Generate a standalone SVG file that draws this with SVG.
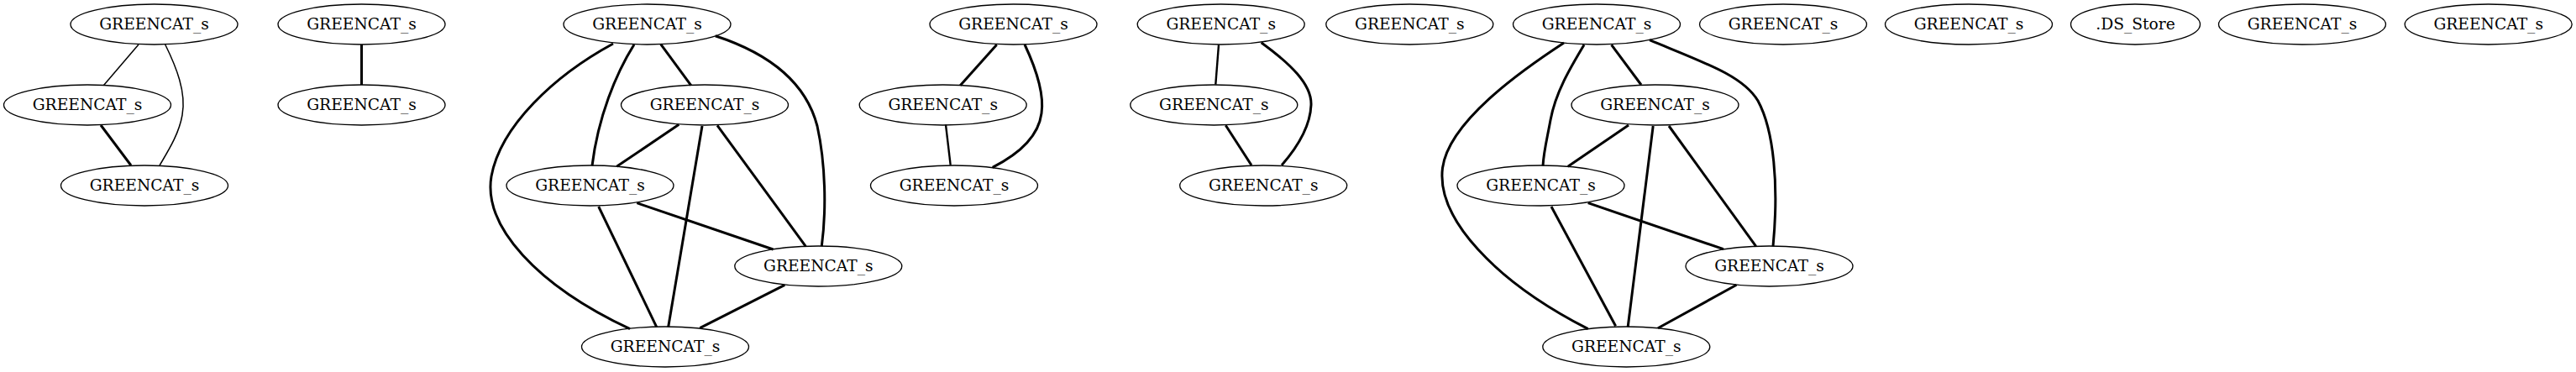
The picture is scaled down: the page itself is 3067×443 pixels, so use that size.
<svg xmlns="http://www.w3.org/2000/svg" width="3067" height="443" viewBox="0 0 3067 443">
<style>
  .node ellipse { fill: none; stroke: #000; stroke-width: 1.33; }
  .node text { font-family: "DejaVu Serif", "Liberation Serif", serif; font-size: 18.67px; text-anchor: middle; fill: #000; }
  #edges path { fill: none; stroke: #000; stroke-linecap: butt; }
  .w1 { stroke-width: 1.5; }
  .w2 { stroke-width: 2.4; }
  .w3 { stroke-width: 3; }
</style>
<rect width="3067" height="443" fill="#fff"/>
<g id="edges">
  <!-- component 1 -->
  <path class="w1" d="M165,53 L123.3,101.7"/>
  <path class="w1" d="M196.7,53 C210,80 222,110 217,137 C213,160 200,180 190,197"/>
  <path class="w3" d="M120,149 L156,197"/>
  <!-- component 2 -->
  <path class="w3" d="M430.5,53 L430.5,101"/>
  <!-- component 3 -->
  <path class="w3" d="M786.7,52.7 L822.7,101.7"/>
  <path class="w3" d="M755,53 C733,88 712,140 705,197.3"/>
  <path class="w3" d="M730,52 C660,90 596,150 585,210 C575,270 640,340 750,391.7"/>
  <path class="w3" d="M851.7,42.7 C920,65 960,100 973,150 C983,195 984,250 978.3,293.3"/>
  <path class="w3" d="M808.3,148.3 L734.3,198.3"/>
  <path class="w3" d="M836,150 L795.7,389.3"/>
  <path class="w3" d="M854,149.3 L959.3,293.3"/>
  <path class="w3" d="M758.3,241.7 L920.5,297"/>
  <path class="w3" d="M712.7,246 L781.7,389.3"/>
  <path class="w3" d="M934.3,339.3 L833.3,390.7"/>
  <!-- component 4 -->
  <path class="w3" d="M1186.7,53.3 L1143.3,101.7"/>
  <path class="w3" d="M1220,53 C1235,85 1243,115 1240,135 C1236,165 1210,185 1181.7,199.3"/>
  <path class="w2" d="M1126,148.3 L1131.7,196.7"/>
  <!-- component 5 -->
  <path class="w2" d="M1451,53.3 L1447.3,100.7"/>
  <path class="w3" d="M1501.7,50.7 C1535,75 1562,100 1561,125 C1560,150 1545,175 1526,196.7"/>
  <path class="w3" d="M1459.3,149.3 L1490,196.7"/>
  <!-- component 6 -->
  <path class="w3" d="M1918.6,53.3 L1954,101"/>
  <path class="w3" d="M1886,53.3 C1870,80 1852,110 1846,143 C1842,165 1838,180 1837,197.3"/>
  <path class="w3" d="M1862,51 C1810,85 1725,145 1717.5,200 C1710,260 1780,335 1890.7,391.7"/>
  <path class="w3" d="M1964,47.7 C2030,75 2075,90 2093,120 C2112,155 2118,220 2111,293.3"/>
  <path class="w3" d="M1939,149 L1866.8,198.3"/>
  <path class="w3" d="M1968.2,150 L1938.2,389.3"/>
  <path class="w3" d="M1987,150 L2090.7,293.3"/>
  <path class="w3" d="M1890.7,241.7 L2052,296.7"/>
  <path class="w3" d="M1847,246 L1923.6,388.3"/>
  <path class="w3" d="M2067.5,339.3 L1974,390.7"/>
</g>
<!-- component 1 -->
<g id="n1" class="node"><ellipse cx="183.5" cy="29" rx="99.5" ry="24"/><text x="183.5" y="35">GREENCAT_s</text></g>
<g id="n2" class="node"><ellipse cx="104" cy="125" rx="99.5" ry="24"/><text x="104" y="131">GREENCAT_s</text></g>
<g id="n3" class="node"><ellipse cx="172" cy="221" rx="99.5" ry="24"/><text x="172" y="227">GREENCAT_s</text></g>
<!-- component 2 -->
<g id="n4" class="node"><ellipse cx="430.5" cy="29" rx="99.5" ry="24"/><text x="430.5" y="35">GREENCAT_s</text></g>
<g id="n5" class="node"><ellipse cx="430.5" cy="125" rx="99.5" ry="24"/><text x="430.5" y="131">GREENCAT_s</text></g>
<!-- component 3 -->
<g id="n6" class="node"><ellipse cx="770.5" cy="29" rx="99.5" ry="24"/><text x="770.5" y="35">GREENCAT_s</text></g>
<g id="n7" class="node"><ellipse cx="839" cy="125" rx="99.5" ry="24"/><text x="839" y="131">GREENCAT_s</text></g>
<g id="n8" class="node"><ellipse cx="702.5" cy="221" rx="99.5" ry="24"/><text x="702.5" y="227">GREENCAT_s</text></g>
<g id="n9" class="node"><ellipse cx="974.3" cy="317" rx="99.5" ry="24"/><text x="974.3" y="323">GREENCAT_s</text></g>
<g id="n10" class="node"><ellipse cx="792" cy="413" rx="99.5" ry="24"/><text x="792" y="419">GREENCAT_s</text></g>
<!-- component 4 -->
<g id="n11" class="node"><ellipse cx="1206.5" cy="29" rx="99.5" ry="24"/><text x="1206.5" y="35">GREENCAT_s</text></g>
<g id="n12" class="node"><ellipse cx="1122.7" cy="125" rx="99.5" ry="24"/><text x="1122.7" y="131">GREENCAT_s</text></g>
<g id="n13" class="node"><ellipse cx="1136" cy="221" rx="99.5" ry="24"/><text x="1136" y="227">GREENCAT_s</text></g>
<!-- component 5 -->
<g id="n14" class="node"><ellipse cx="1453.7" cy="29" rx="99.5" ry="24"/><text x="1453.7" y="35">GREENCAT_s</text></g>
<g id="n15" class="node"><ellipse cx="1445.3" cy="125" rx="99.5" ry="24"/><text x="1445.3" y="131">GREENCAT_s</text></g>
<g id="n16" class="node"><ellipse cx="1504.2" cy="221" rx="99.5" ry="24"/><text x="1504.2" y="227">GREENCAT_s</text></g>
<!-- isolated -->
<g id="n17" class="node"><ellipse cx="1678.3" cy="29" rx="99.5" ry="24"/><text x="1678.3" y="35">GREENCAT_s</text></g>
<!-- component 6 -->
<g id="n18" class="node"><ellipse cx="1901" cy="29" rx="99.5" ry="24"/><text x="1901" y="35">GREENCAT_s</text></g>
<g id="n19" class="node"><ellipse cx="1970.5" cy="125" rx="99.5" ry="24"/><text x="1970.5" y="131">GREENCAT_s</text></g>
<g id="n20" class="node"><ellipse cx="1834.5" cy="221" rx="99.5" ry="24"/><text x="1834.5" y="227">GREENCAT_s</text></g>
<g id="n21" class="node"><ellipse cx="2106.5" cy="317" rx="99.5" ry="24"/><text x="2106.5" y="323">GREENCAT_s</text></g>
<g id="n22" class="node"><ellipse cx="1936.3" cy="413" rx="99.5" ry="24"/><text x="1936.3" y="419">GREENCAT_s</text></g>
<!-- isolated -->
<g id="n23" class="node"><ellipse cx="2123" cy="29" rx="99.5" ry="24"/><text x="2123" y="35">GREENCAT_s</text></g>
<g id="n24" class="node"><ellipse cx="2344" cy="29" rx="99.5" ry="24"/><text x="2344" y="35">GREENCAT_s</text></g>
<g id="n25" class="node"><ellipse cx="2542.5" cy="29" rx="77" ry="24"/><text x="2542.5" y="35">.DS_Store</text></g>
<g id="n26" class="node"><ellipse cx="2741" cy="29" rx="99.5" ry="24"/><text x="2741" y="35">GREENCAT_s</text></g>
<g id="n27" class="node"><ellipse cx="2962.7" cy="29" rx="99.5" ry="24"/><text x="2962.7" y="35">GREENCAT_s</text></g>
</svg>
